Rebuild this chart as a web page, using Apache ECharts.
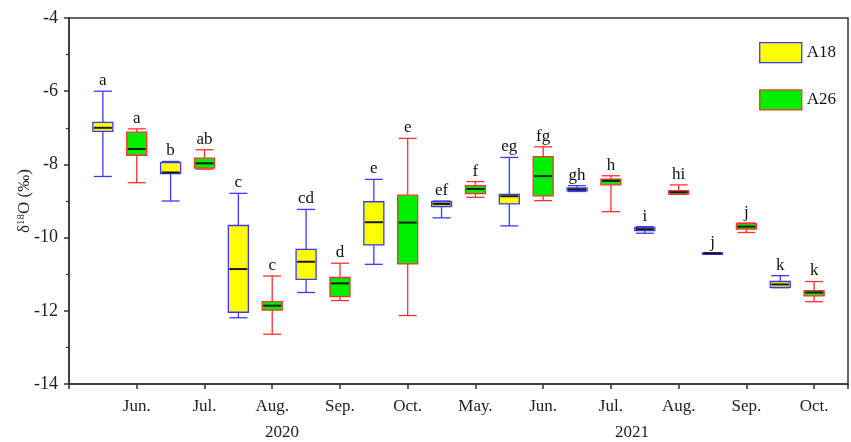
<!DOCTYPE html>
<html>
<head>
<meta charset="utf-8">
<script src="https://cdn.jsdelivr.net/npm/echarts@6/dist/echarts.min.js"></script>
<style>html,body{margin:0;padding:0;background:#fff;}#c{width:851px;height:442px;}</style>
</head>
<body>
<div id="c"></div>
<script>
// month tick labels (at positions 2,4,...,22)
var monthLabels = ['Jun.', 'Jul.', 'Aug.', 'Sep.', 'Oct.', 'May.', 'Jun.', 'Jul.', 'Aug.', 'Sep.', 'Oct.'];
var yearLabels = ['2020', '2021'];
// [min, Q1, median, Q3, max]
var a18Stats = [
  [-8.33, -7.10, -7.00, -6.85, -6.00],
  [-9.00, -8.25, -8.22, -7.95, -7.92],
  [-12.19, -12.04, -10.86, -9.67, -8.79],
  [-11.50, -11.14, -10.66, -10.32, -9.23],
  [-10.73, -10.20, -9.58, -9.02, -8.41],
  [-9.46, -9.15, -9.08, -9.02, -9.00],
  [-9.68, -9.08, -8.87, -8.82, -7.81],
  [-8.74, -8.72, -8.68, -8.64, -8.58],
  [-9.88, -9.81, -9.77, -9.73, -9.70],
  [-10.45, -10.44, -10.43, -10.42, -10.41],
  [-11.37, -11.36, -11.28, -11.20, -11.04]
];
var a26Stats = [
  [-8.50, -7.75, -7.58, -7.12, -7.03],
  [-8.13, -8.10, -7.97, -7.83, -7.60],
  [-12.64, -11.98, -11.86, -11.75, -11.05],
  [-11.72, -11.61, -11.25, -11.09, -10.70],
  [-12.13, -10.72, -9.59, -8.84, -7.29],
  [-8.90, -8.80, -8.67, -8.58, -8.47],
  [-8.99, -8.86, -8.32, -7.79, -7.52],
  [-9.29, -8.56, -8.45, -8.40, -8.31],
  [-8.82, -8.81, -8.76, -8.72, -8.56],
  [-9.86, -9.77, -9.70, -9.62, -9.60],
  [-11.75, -11.59, -11.50, -11.45, -11.20]
];
var a18Letters = ['a', 'b', 'c', 'cd', 'e', 'ef', 'eg', 'gh', 'i', 'j', 'k'];
var a26Letters = ['a', 'ab', 'c', 'd', 'e', 'f', 'fg', 'h', 'hi', 'j', 'k'];

var SERIF = '"Liberation Serif", "DejaVu Serif", serif';

function buildData(stats, letters, offset) {
  return stats.map(function (s, i) {
    return [2 * i + offset, s[0], s[1], s[2], s[3], s[4], letters[i]];
  });
}

function makeRender(fill, stroke) {
  return function (params, api) {
    var x = api.value(0);
    var pMin = api.coord([x, api.value(1)]);
    var pQ1 = api.coord([x, api.value(2)]);
    var pMed = api.coord([x, api.value(3)]);
    var pQ3 = api.coord([x, api.value(4)]);
    var pMax = api.coord([x, api.value(5)]);
    var cx = pMin[0];
    var hw = 10, cw = 9;
    var lineStyle = { stroke: stroke, lineWidth: 1.3, fill: null };
    var boxTop = Math.min(pQ3[1], pQ1[1]);
    var boxH = Math.max(Math.abs(pQ1[1] - pQ3[1]), 1.5);
    return {
      type: 'group',
      children: [
        { type: 'line', shape: { x1: cx, y1: pMax[1], x2: cx, y2: pQ3[1] }, style: lineStyle },
        { type: 'line', shape: { x1: cx, y1: pQ1[1], x2: cx, y2: pMin[1] }, style: lineStyle },
        { type: 'line', shape: { x1: cx - cw, y1: pMax[1], x2: cx + cw, y2: pMax[1] }, style: lineStyle },
        { type: 'line', shape: { x1: cx - cw, y1: pMin[1], x2: cx + cw, y2: pMin[1] }, style: lineStyle },
        { type: 'rect', shape: { x: cx - hw, y: boxTop, width: 2 * hw, height: boxH },
          style: { fill: fill, stroke: stroke, lineWidth: 1.3 } },
        { type: 'line', shape: { x1: cx - hw + 1, y1: pMed[1], x2: cx + hw - 1, y2: pMed[1] },
          style: { stroke: '#1a1a1a', lineWidth: 2 } },
        { type: 'text', style: { text: api.value(6), x: cx, y: pMax[1] - 2,
          align: 'center', verticalAlign: 'bottom', font: '17px ' + SERIF, fill: '#111' } }
      ]
    };
  };
}

var chart = echarts.init(document.getElementById('c'), null, { renderer: 'canvas' });
chart.setOption({
  backgroundColor: '#fff',
  animation: false,
  grid: { left: 69, right: 2, top: 18, bottom: 58, show: true, borderColor: '#333', borderWidth: 1.5, backgroundColor: 'transparent' },
  legend: {
    orient: 'vertical', right: 10, top: 37, itemWidth: 42, itemHeight: 20, itemGap: 26,
    textStyle: { fontFamily: SERIF, fontSize: 17, color: '#111' },
    data: [
      { name: 'A18', icon: 'rect', itemStyle: { color: '#ffff00', borderColor: '#3a3aff', borderWidth: 1.3 } },
      { name: 'A26', icon: 'rect', itemStyle: { color: '#00ee00', borderColor: '#ff3030', borderWidth: 1.3 } }
    ]
  },
  xAxis: {
    type: 'value', min: 0, max: 23, interval: 2,
    splitLine: { show: false },
    axisLine: { lineStyle: { color: '#333', width: 1.5 } },
    axisTick: { show: true, length: 5, lineStyle: { color: '#333', width: 1.5 } },
    axisLabel: {
      margin: 14, fontFamily: SERIF, fontSize: 17, color: '#222',
      formatter: function (v) { var k = v / 2 - 1; return (k >= 0 && k < monthLabels.length) ? monthLabels[k] : ''; }
    }
  },
  yAxis: {
    type: 'value', min: -14, max: -4, interval: 2,
    splitLine: { show: false },
    axisLine: { show: true, lineStyle: { color: '#333', width: 1.5 } },
    axisTick: { show: true, length: 5, lineStyle: { color: '#333', width: 1.5 } },
    minorTick: { show: true, splitNumber: 2, length: 3, lineStyle: { color: '#333', width: 1.2 } },
    axisLabel: { margin: 11, fontFamily: SERIF, fontSize: 18, color: '#222' },
    name: '{t|δ}{s|18}{t|O (‰)}',
    nameLocation: 'middle', nameGap: 36, nameMoveOverlap: false,
    nameTextStyle: {
      rich: {
        t: { fontFamily: SERIF, fontSize: 17, color: '#222' },
        s: { fontFamily: SERIF, fontSize: 11, color: '#222', verticalAlign: 'top', padding: [0, 0, 6, 0] }
      }
    }
  },
  graphic: [
    { type: 'text', left: 265, top: 424, style: { text: yearLabels[0], font: '17px ' + SERIF, fill: '#222' } },
    { type: 'text', left: 615, top: 424, style: { text: yearLabels[1], font: '17px ' + SERIF, fill: '#222' } }
  ],
  series: [
    { name: 'A18', type: 'custom', renderItem: makeRender('#ffff00', '#3a3aff'),
      encode: { x: 0, y: [1, 2, 3, 4, 5] }, data: buildData(a18Stats, a18Letters, 1), z: 3 },
    { name: 'A26', type: 'custom', renderItem: makeRender('#00ee00', '#ff3030'),
      encode: { x: 0, y: [1, 2, 3, 4, 5] }, data: buildData(a26Stats, a26Letters, 2), z: 3 }
  ]
});
</script>
</body>
</html>
